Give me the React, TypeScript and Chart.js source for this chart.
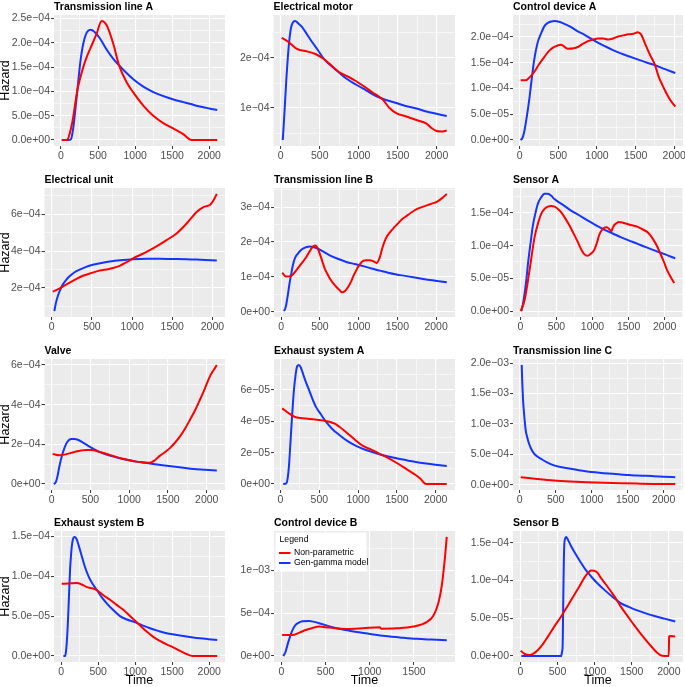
import React, { useEffect, useRef } from 'react';
import { Chart, registerables } from 'chart.js';

Chart.register(...registerables);

const FONT = '"Liberation Sans", Arial, Helvetica, sans-serif';
const RED = '#FF0000';
const BLUE = '#1535FF';
const seriesNames = ['Non-parametric', 'Gen-gamma model'];
const xBreakStep = 500;

const titles = [
  'Transmission line A', 'Electrical motor', 'Control device A',
  'Electrical unit', 'Transmission line B', 'Sensor A',
  'Valve', 'Exhaust system A', 'Transmission line C',
  'Exhaust system B', 'Control device B', 'Sensor B',
];

// ---- Transmission line A
const tlA_npT = [10, 76, 150, 220, 300, 350, 400, 481, 548, 616, 705, 782, 885, 975, 1110, 1245, 1380, 1514, 1650, 1762, 1900, 2108];
const tlA_npH = [0, 0, 3.5e-5, 1.02e-4, 1.5e-4, 1.72e-4, 1.9e-4, 2.19e-4, 2.45e-4, 2.36e-4, 1.98e-4, 1.54e-4, 1.19e-4, 9.8e-5, 7.1e-5, 5.0e-5, 3.5e-5, 2.4e-5, 1.2e-5, 0, 0, 0];
const tlA_ggT = [10, 100, 135, 165, 195, 220, 260, 300, 350, 400, 450, 526, 600, 700, 782, 850, 975, 1100, 1200, 1300, 1425, 1550, 1650, 1750, 1874, 2000, 2108];
const tlA_ggH = [0, 0, 2e-6, 2.5e-5, 6.5e-5, 1.02e-4, 1.6e-4, 1.98e-4, 2.22e-4, 2.27e-4, 2.23e-4, 2.09e-4, 1.9e-4, 1.68e-4, 1.54e-4, 1.43e-4, 1.25e-4, 1.11e-4, 1.02e-4, 9.5e-5, 8.8e-5, 8.2e-5, 7.8e-5, 7.4e-5, 6.9e-5, 6.5e-5, 6.2e-5];
const tlA_yBreaks = [0, 5e-5, 1e-4, 1.5e-4, 2e-4, 2.5e-4];
const tlA_yLabels = ['0.0e+00', '5.0e\u221205', '1.0e\u221204', '1.5e\u221204', '2.0e\u221204', '2.5e\u221204'];

// ---- Electrical motor
const em_npT = [13, 99, 207, 315, 445, 553, 650, 747, 860, 963, 1080, 1180, 1250, 1309, 1395, 1482, 1611, 1741, 1870, 1935, 2000, 2065, 2130];
const em_npH = [2.40e-4, 2.32e-4, 2.18e-4, 2.14e-4, 2.08e-4, 1.98e-4, 1.85e-4, 1.72e-4, 1.63e-4, 1.54e-4, 1.42e-4, 1.31e-4, 1.24e-4, 1.17e-4, 1.00e-4, 0.90e-4, 0.83e-4, 0.76e-4, 0.69e-4, 0.60e-4, 0.54e-4, 0.53e-4, 0.55e-4];
const em_ggT = [26, 40, 56, 75, 91, 110, 134, 160, 186, 220, 272, 330, 402, 480, 553, 650, 747, 850, 963, 1100, 1223, 1350, 1482, 1600, 1741, 1870, 2000, 2130];
const em_ggH = [0.36e-4, 0.70e-4, 1.14e-4, 1.65e-4, 2.01e-4, 2.35e-4, 2.62e-4, 2.72e-4, 2.74e-4, 2.70e-4, 2.62e-4, 2.49e-4, 2.32e-4, 2.15e-4, 1.98e-4, 1.84e-4, 1.71e-4, 1.58e-4, 1.47e-4, 1.35e-4, 1.24e-4, 1.16e-4, 1.10e-4, 1.04e-4, 0.99e-4, 0.93e-4, 0.885e-4, 0.84e-4];
const em_yBreaks = [1e-4, 2e-4];
const em_yLabels = ['1e\u221204', '2e\u221204'];

// ---- Control device A
const cdA_npT = [13, 78, 130, 187, 250, 317, 380, 448, 535, 622, 700, 752, 820, 883, 950, 1013, 1080, 1143, 1210, 1274, 1340, 1404, 1470, 1526, 1570, 1622, 1690, 1752, 1800, 1839, 1880, 1926, 1970, 2013];
const cdA_npH = [11.6e-5, 11.6e-5, 12.2e-5, 13.2e-5, 14.7e-5, 16.1e-5, 17.3e-5, 18.05e-5, 18.5e-5, 17.7e-5, 17.8e-5, 18.05e-5, 18.7e-5, 19.2e-5, 19.5e-5, 19.7e-5, 19.7e-5, 19.5e-5, 19.7e-5, 20.1e-5, 20.3e-5, 20.5e-5, 20.6e-5, 20.9e-5, 20.5e-5, 18.7e-5, 16.4e-5, 14.5e-5, 12.2e-5, 10.9e-5, 9.6e-5, 8.3e-5, 7.3e-5, 6.5e-5];
const cdA_ggT = [13, 35, 57, 90, 122, 155, 187, 230, 274, 320, 361, 410, 448, 520, 600, 665, 750, 820, 883, 1000, 1100, 1200, 1317, 1420, 1535, 1650, 1752, 1880, 2013];
const cdA_ggH = [0, 0.4e-5, 1.5e-5, 4.4e-5, 7.7e-5, 11.8e-5, 15.5e-5, 18.8e-5, 20.6e-5, 22.1e-5, 22.7e-5, 23.0e-5, 23.1e-5, 22.9e-5, 22.4e-5, 21.9e-5, 21.1e-5, 20.6e-5, 20.0e-5, 19.0e-5, 18.2e-5, 17.5e-5, 16.75e-5, 16.2e-5, 15.6e-5, 15.0e-5, 14.5e-5, 13.75e-5, 13.0e-5];
const cdA_yBreaks = [0, 5e-5, 1e-4, 1.5e-4, 2e-4];
const cdA_yLabels = ['0.0e+00', '5.0e\u221205', '1.0e\u221204', '1.5e\u221204', '2.0e\u221204'];

// ---- Electrical unit
const eu_npT = [12, 100, 179, 280, 387, 500, 596, 700, 763, 846, 930, 1012, 1120, 1221, 1330, 1429, 1554, 1679, 1804, 1888, 1971, 2012, 2054];
const eu_npH = [1.80e-4, 1.98e-4, 2.18e-4, 2.42e-4, 2.66e-4, 2.82e-4, 2.95e-4, 3.02e-4, 3.08e-4, 3.2e-4, 3.4e-4, 3.61e-4, 3.83e-4, 4.06e-4, 4.33e-4, 4.6e-4, 4.96e-4, 5.5e-4, 6.13e-4, 6.39e-4, 6.52e-4, 6.75e-4, 7.11e-4];
const eu_ggT = [33, 50, 75, 105, 137, 180, 221, 280, 346, 420, 512, 620, 721, 850, 1012, 1180, 1346, 1500, 1679, 1850, 2054];
const eu_ggH = [0.74e-4, 1.15e-4, 1.55e-4, 1.90e-4, 2.18e-4, 2.44e-4, 2.63e-4, 2.84e-4, 2.99e-4, 3.13e-4, 3.26e-4, 3.36e-4, 3.43e-4, 3.50e-4, 3.56e-4, 3.58e-4, 3.58e-4, 3.57e-4, 3.56e-4, 3.53e-4, 3.49e-4];
const eu_yBreaks = [2e-4, 4e-4, 6e-4];
const eu_yLabels = ['2e\u221204', '4e\u221204', '6e\u221204'];

// ---- Transmission line B
const tlB_npT = [13, 65, 130, 194, 260, 324, 380, 410, 445, 470, 497, 530, 562, 595, 626, 670, 713, 750, 786, 825, 864, 900, 929, 960, 994, 1025, 1058, 1100, 1145, 1190, 1231, 1274, 1305, 1339, 1370, 1404, 1450, 1490, 1550, 1620, 1690, 1750, 1815, 1879, 1945, 2009, 2074, 2138];
const tlB_npH = [1.12e-4, 1.01e-4, 1.03e-4, 1.19e-4, 1.38e-4, 1.57e-4, 1.78e-4, 1.87e-4, 1.9e-4, 1.82e-4, 1.67e-4, 1.45e-4, 1.24e-4, 1.09e-4, 0.96e-4, 0.82e-4, 0.71e-4, 0.63e-4, 0.56e-4, 0.6e-4, 0.71e-4, 0.86e-4, 1.01e-4, 1.15e-4, 1.29e-4, 1.39e-4, 1.46e-4, 1.48e-4, 1.48e-4, 1.45e-4, 1.40e-4, 1.57e-4, 1.82e-4, 2.04e-4, 2.18e-4, 2.28e-4, 2.40e-4, 2.49e-4, 2.63e-4, 2.75e-4, 2.86e-4, 2.94e-4, 3.0e-4, 3.05e-4, 3.1e-4, 3.15e-4, 3.25e-4, 3.38e-4];
const tlB_ggT = [35, 50, 65, 85, 108, 130, 151, 180, 216, 250, 281, 320, 367, 410, 454, 540, 626, 730, 842, 950, 1058, 1170, 1274, 1380, 1490, 1600, 1706, 1815, 1922, 2030, 2138];
const tlB_ggH = [0.02e-4, 0.08e-4, 0.21e-4, 0.48e-4, 0.82e-4, 1.10e-4, 1.34e-4, 1.55e-4, 1.67e-4, 1.76e-4, 1.81e-4, 1.85e-4, 1.87e-4, 1.86e-4, 1.83e-4, 1.73e-4, 1.62e-4, 1.52e-4, 1.43e-4, 1.37e-4, 1.31e-4, 1.24e-4, 1.18e-4, 1.12e-4, 1.07e-4, 1.03e-4, 0.99e-4, 0.95e-4, 0.91e-4, 0.88e-4, 0.85e-4];
const tlB_yBreaks = [0, 1e-4, 2e-4, 3e-4];
const tlB_yLabels = ['0e+00', '1e\u221204', '2e\u221204', '3e\u221204'];

// ---- Sensor A
const sA_npT = [5, 60, 128, 197, 250, 289, 335, 381, 430, 472, 520, 564, 620, 679, 740, 794, 840, 885, 931, 980, 1023, 1060, 1092, 1125, 1160, 1190, 1216, 1240, 1261, 1280, 1298, 1330, 1367, 1420, 1482, 1550, 1619, 1690, 1757, 1800, 1849, 1895, 1940, 1990, 2032, 2080, 2133];
const sA_npH = [0, 1.76e-5, 6.3e-5, 11.3e-5, 13.6e-5, 14.85e-5, 15.6e-5, 15.95e-5, 16.05e-5, 15.95e-5, 15.6e-5, 15.1e-5, 14.2e-5, 13.1e-5, 11.8e-5, 10.6e-5, 9.5e-5, 8.7e-5, 8.45e-5, 8.8e-5, 9.31e-5, 10.4e-5, 11.6e-5, 12.3e-5, 12.7e-5, 12.8e-5, 12.7e-5, 12.4e-5, 12.2e-5, 12.7e-5, 13.1e-5, 13.4e-5, 13.6e-5, 13.5e-5, 13.3e-5, 13.1e-5, 12.9e-5, 12.5e-5, 12.1e-5, 11.6e-5, 10.8e-5, 9.9e-5, 8.8e-5, 7.5e-5, 6.3e-5, 5.3e-5, 4.28e-5];
const sA_ggT = [14, 35, 60, 85, 106, 140, 174, 210, 243, 290, 335, 381, 430, 472, 580, 702, 820, 931, 1050, 1160, 1280, 1390, 1500, 1619, 1730, 1849, 2000, 2147];
const sA_ggH = [0, 1.0e-5, 2.77e-5, 5.0e-5, 7.3e-5, 10.3e-5, 13.1e-5, 15.0e-5, 16.4e-5, 17.4e-5, 17.9e-5, 17.9e-5, 17.6e-5, 17.1e-5, 16.3e-5, 15.35e-5, 14.6e-5, 13.84e-5, 13.1e-5, 12.43e-5, 11.85e-5, 11.3e-5, 10.8e-5, 10.3e-5, 9.8e-5, 9.31e-5, 8.7e-5, 8.05e-5];
const sA_yBreaks = [0, 5e-5, 1e-4, 1.5e-4];
const sA_yLabels = ['0.0e+00', '5.0e\u221205', '1.0e\u221204', '1.5e\u221204'];

// ---- Valve
const va_npT = [13, 99, 186, 250, 315, 380, 445, 510, 575, 660, 747, 830, 920, 1000, 1093, 1180, 1266, 1330, 1395, 1460, 1525, 1590, 1655, 1720, 1784, 1850, 1914, 1980, 2043, 2090, 2130];
const va_npH = [1.52e-4, 1.45e-4, 1.50e-4, 1.57e-4, 1.64e-4, 1.69e-4, 1.72e-4, 1.71e-4, 1.67e-4, 1.58e-4, 1.47e-4, 1.37e-4, 1.27e-4, 1.2e-4, 1.13e-4, 1.10e-4, 1.07e-4, 1.2e-4, 1.42e-4, 1.6e-4, 1.81e-4, 2.08e-4, 2.40e-4, 2.79e-4, 3.24e-4, 3.72e-4, 4.26e-4, 4.85e-4, 5.44e-4, 5.75e-4, 6.0e-4];
const va_ggT = [26, 45, 56, 75, 99, 130, 164, 200, 251, 300, 337, 400, 488, 570, 661, 760, 877, 980, 1093, 1200, 1309, 1430, 1568, 1700, 1827, 1980, 2130];
const va_ggH = [0, 0.05e-4, 0.12e-4, 0.4e-4, 0.88e-4, 1.4e-4, 1.81e-4, 2.12e-4, 2.27e-4, 2.27e-4, 2.23e-4, 2.1e-4, 1.89e-4, 1.71e-4, 1.55e-4, 1.42e-4, 1.30e-4, 1.21e-4, 1.13e-4, 1.07e-4, 1.01e-4, 0.95e-4, 0.88e-4, 0.82e-4, 0.76e-4, 0.72e-4, 0.68e-4];
const va_yBreaks = [0, 2e-4, 4e-4, 6e-4];
const va_yLabels = ['0e+00', '2e\u221204', '4e\u221204', '6e\u221204'];

// ---- Exhaust system A
const esA_npT = [22, 108, 195, 325, 498, 628, 700, 758, 820, 888, 970, 1061, 1170, 1277, 1390, 1494, 1600, 1710, 1800, 1875, 2000, 2143];
const esA_npH = [4.83e-5, 4.51e-5, 4.26e-5, 4.19e-5, 4.09e-5, 3.98e-5, 3.85e-5, 3.66e-5, 3.42e-5, 3.13e-5, 2.78e-5, 2.43e-5, 2.2e-5, 1.93e-5, 1.65e-5, 1.36e-5, 1.03e-5, 0.68e-5, 0.36e-5, 0, 0, 0];
const esA_ggT = [35, 74, 90, 108, 125, 143, 158, 173, 195, 216, 238, 260, 281, 320, 368, 410, 455, 520, 585, 670, 758, 860, 974, 1100, 1234, 1360, 1494, 1650, 1797, 1970, 2143];
const esA_ggH = [0, 0.04e-5, 0.3e-5, 1.1e-5, 2.4e-5, 3.87e-5, 5.0e-5, 6.0e-5, 7.0e-5, 7.53e-5, 7.6e-5, 7.45e-5, 7.17e-5, 6.6e-5, 6.0e-5, 5.45e-5, 4.94e-5, 4.45e-5, 3.98e-5, 3.5e-5, 3.13e-5, 2.75e-5, 2.43e-5, 2.17e-5, 1.96e-5, 1.79e-5, 1.64e-5, 1.49e-5, 1.36e-5, 1.25e-5, 1.15e-5];
const esA_yBreaks = [0, 2e-5, 4e-5, 6e-5];
const esA_yLabels = ['0e+00', '2e\u221205', '4e\u221205', '6e\u221205'];

// ---- Transmission line C
const tlC_npT = [14, 240, 476, 700, 938, 1170, 1400, 1630, 1861, 2000, 2162];
const tlC_npH = [1.27e-4, 0.98e-4, 0.72e-4, 0.56e-4, 0.44e-4, 0.35e-4, 0.28e-4, 0.22e-4, 0.17e-4, 0.16e-4, 0.15e-4];
const tlC_ggT = [28, 35, 45, 60, 83, 105, 129, 160, 199, 240, 291, 380, 476, 590, 707, 820, 938, 1050, 1169, 1290, 1400, 1520, 1631, 1750, 1861, 2000, 2162];
const tlC_ggH = [19.7e-4, 17.0e-4, 14.2e-4, 11.8e-4, 9.0e-4, 7.8e-4, 6.8e-4, 5.9e-4, 5.15e-4, 4.7e-4, 4.32e-4, 3.7e-4, 3.21e-4, 2.9e-4, 2.66e-4, 2.42e-4, 2.22e-4, 2.07e-4, 1.94e-4, 1.83e-4, 1.72e-4, 1.63e-4, 1.55e-4, 1.5e-4, 1.44e-4, 1.36e-4, 1.27e-4];
const tlC_yBreaks = [0, 5e-4, 1e-3, 1.5e-3, 2e-3];
const tlC_yLabels = ['0.0e+00', '5.0e\u221204', '1.0e\u221203', '1.5e\u221203', '2.0e\u221203'];

// ---- Exhaust system B
const esB_npT = [9, 100, 211, 280, 346, 410, 481, 570, 661, 750, 840, 930, 1020, 1090, 1155, 1245, 1335, 1425, 1514, 1600, 1694, 1775, 1900, 2108];
const esB_npH = [9.05e-5, 9.08e-5, 9.13e-5, 8.95e-5, 8.63e-5, 8.5e-5, 8.25e-5, 7.6e-5, 7.04e-5, 6.4e-5, 5.78e-5, 5.0e-5, 4.23e-5, 3.6e-5, 3.06e-5, 2.4e-5, 1.89e-5, 1.45e-5, 1.09e-5, 0.68e-5, 0.25e-5, 0, 0, 0];
const esB_ggT = [31, 54, 65, 76, 88, 99, 110, 121, 133, 144, 160, 175, 192, 211, 245, 279, 320, 369, 420, 481, 545, 616, 700, 795, 880, 975, 1090, 1200, 1310, 1425, 1540, 1650, 1760, 1874, 1990, 2108];
const esB_ggH = [0, 0, 0.5e-5, 1.6e-5, 3.5e-5, 5.8e-5, 8.4e-5, 10.8e-5, 12.5e-5, 13.7e-5, 14.6e-5, 14.9e-5, 14.85e-5, 14.6e-5, 13.6e-5, 12.5e-5, 11.2e-5, 10.0e-5, 9.1e-5, 8.3e-5, 7.4e-5, 6.6e-5, 5.8e-5, 5.0e-5, 4.6e-5, 4.3e-5, 3.87e-5, 3.48e-5, 3.15e-5, 2.85e-5, 2.67e-5, 2.51e-5, 2.36e-5, 2.22e-5, 2.11e-5, 2.01e-5];
const esB_yBreaks = [0, 5e-5, 1e-4, 1.5e-4];
const esB_yLabels = ['0.0e+00', '5.0e\u221205', '1.0e\u221204', '1.5e\u221204'];

// ---- Control device B
const cdB_npT = [10, 123, 200, 275, 350, 427, 541, 731, 921, 1111, 1130, 1301, 1491, 1643, 1719, 1776, 1814, 1845, 1871];
const cdB_npH = [2.44e-4, 2.44e-4, 2.7e-4, 3.03e-4, 3.25e-4, 3.43e-4, 3.31e-4, 3.15e-4, 3.23e-4, 3.35e-4, 3.19e-4, 3.23e-4, 3.43e-4, 3.94e-4, 4.69e-4, 6.18e-4, 8.15e-4, 10.9e-4, 13.86e-4];
const cdB_ggT = [21, 47, 75, 104, 130, 161, 200, 237, 313, 427, 579, 769, 959, 1149, 1339, 1529, 1700, 1871];
const cdB_ggH = [0, 0.47e-4, 1.5e-4, 2.44e-4, 3.1e-4, 3.62e-4, 3.9e-4, 4.06e-4, 4.09e-4, 3.82e-4, 3.35e-4, 2.95e-4, 2.64e-4, 2.36e-4, 2.17e-4, 2.0e-4, 1.92e-4, 1.85e-4];
const cdB_yBreaks = [0, 5e-4, 1e-3];
const cdB_yLabels = ['0e+00', '5e\u221204', '1e\u221203'];

// ---- Sensor B
const sB_npT = [4, 58, 125, 180, 236, 300, 370, 450, 549, 640, 727, 800, 861, 910, 950, 995, 1040, 1084, 1150, 1218, 1290, 1351, 1440, 1530, 1620, 1708, 1780, 1842, 1909, 1998, 2005, 2015, 2087];
const sB_npH = [0.71e-5, 0.27e-5, 0.13e-5, 0.35e-5, 0.8e-5, 1.55e-5, 2.57e-5, 3.8e-5, 5.24e-5, 6.7e-5, 8.12e-5, 9.3e-5, 10.34e-5, 11.0e-5, 11.32e-5, 11.3e-5, 11.0e-5, 10.34e-5, 9.5e-5, 8.57e-5, 7.55e-5, 6.57e-5, 5.35e-5, 4.13e-5, 2.98e-5, 1.91e-5, 1.1e-5, 0.44e-5, 0.04e-5, 0, 2.6e-5, 2.66e-5, 2.57e-5];
const sB_ggT = [13, 549, 560, 570, 578, 585, 593, 605, 615, 640, 682, 750, 816, 880, 950, 1040, 1128, 1240, 1351, 1460, 1574, 1690, 1797, 1940, 2087];
const sB_ggH = [0, 0, 0.5e-5, 1.7e-5, 8.0e-5, 12.5e-5, 15.0e-5, 15.6e-5, 15.76e-5, 15.4e-5, 14.56e-5, 13.4e-5, 12.34e-5, 11.4e-5, 10.56e-5, 9.6e-5, 8.79e-5, 7.85e-5, 7.0e-5, 6.5e-5, 6.04e-5, 5.65e-5, 5.33e-5, 4.95e-5, 4.57e-5];
const sB_yBreaks = [0, 5e-5, 1e-4, 1.5e-4];
const sB_yLabels = ['0.0e+00', '5.0e\u221205', '1.0e\u221204', '1.5e\u221204'];

const panels = [
  { np: [tlA_npT, tlA_npH], gg: [tlA_ggT, tlA_ggH], yb: tlA_yBreaks, yl: tlA_yLabels },
  { np: [em_npT, em_npH], gg: [em_ggT, em_ggH], yb: em_yBreaks, yl: em_yLabels },
  { np: [cdA_npT, cdA_npH], gg: [cdA_ggT, cdA_ggH], yb: cdA_yBreaks, yl: cdA_yLabels },
  { np: [eu_npT, eu_npH], gg: [eu_ggT, eu_ggH], yb: eu_yBreaks, yl: eu_yLabels },
  { np: [tlB_npT, tlB_npH], gg: [tlB_ggT, tlB_ggH], yb: tlB_yBreaks, yl: tlB_yLabels },
  { np: [sA_npT, sA_npH], gg: [sA_ggT, sA_ggH], yb: sA_yBreaks, yl: sA_yLabels },
  { np: [va_npT, va_npH], gg: [va_ggT, va_ggH], yb: va_yBreaks, yl: va_yLabels },
  { np: [esA_npT, esA_npH], gg: [esA_ggT, esA_ggH], yb: esA_yBreaks, yl: esA_yLabels },
  { np: [tlC_npT, tlC_npH], gg: [tlC_ggT, tlC_ggH], yb: tlC_yBreaks, yl: tlC_yLabels },
  { np: [esB_npT, esB_npH], gg: [esB_ggT, esB_ggH], yb: esB_yBreaks, yl: esB_yLabels },
  { np: [cdB_npT, cdB_npH], gg: [cdB_ggT, cdB_ggH], yb: cdB_yBreaks, yl: cdB_yLabels },
  { np: [sB_npT, sB_npH], gg: [sB_ggT, sB_ggH], yb: sB_yBreaks, yl: sB_yLabels },
];

// ---- layout (pixels)
const cellX = [0, 228, 457];
const cellW = [228, 229, 228];
const cellY = [0, 170, 340, 510];
const cellH = [170, 170, 170, 177];
const plotTop = [15, 188, 359, 531];
const plotBottom = [146, 317, 490, 662];
const plotRight = [225, 455, 683];
const plotLeft = [[54, 273.5, 513], [44.5, 274, 513], [44.5, 274, 513], [54, 274, 513]];
const X_AXIS_H = 14;
const TICK_FONT = 10.5;

function extent(arrs: number[][]) {
  let lo = Infinity, hi = -Infinity;
  arrs.forEach(a => a.forEach(v => { if (v < lo) lo = v; if (v > hi) hi = v; }));
  const d = (hi - lo) * 0.05;
  return [lo - d, hi + d];
}

function halfTicks(min: number, max: number, step: number) {
  const h = step / 2;
  const out: { value: number }[] = [];
  for (let k = Math.ceil(min / h - 1e-9); k * h <= max + 1e-15; k++) out.push({ value: k * h });
  return out;
}
const isMajor = (v: number, step: number) => Math.abs(Math.round(v / (step / 2))) % 2 === 0;

const decor = {
  id: 'decor',
  beforeDraw(chart: any) {
    const { ctx, chartArea: a } = chart;
    ctx.save();
    ctx.fillStyle = '#EBEBEB';
    ctx.fillRect(a.left, a.top, a.right - a.left, a.bottom - a.top);
    ctx.restore();
  },
  afterDraw(chart: any, _args: any, opts: any) {
    const { ctx, chartArea: a } = chart;
    ctx.save();
    ctx.fillStyle = '#000000';
    ctx.font = `bold 10.5px ${FONT}`;
    ctx.textAlign = 'left';
    ctx.textBaseline = 'alphabetic';
    ctx.fillText(opts.title, a.left, a.top - 5);
    ctx.font = `12.5px ${FONT}`;
    if (opts.yTitle) {
      ctx.save();
      ctx.translate(6, (a.top + a.bottom) / 2);
      ctx.rotate(-Math.PI / 2);
      ctx.textAlign = 'center';
      ctx.textBaseline = 'middle';
      ctx.fillText('Hazard', 0, 0);
      ctx.restore();
    }
    if (opts.xTitle) {
      ctx.textAlign = 'center';
      ctx.textBaseline = 'middle';
      ctx.fillText('Time', (a.left + a.right) / 2, a.bottom + 18.5);
    }
    if (opts.legend) {
      const bx = a.left + 1.5, by = a.top + 1.5, bw = 91, bh = 39;
      ctx.fillStyle = '#FFFFFF';
      ctx.fillRect(bx, by, bw, bh);
      ctx.fillStyle = '#000000';
      ctx.font = `8.7px ${FONT}`;
      ctx.textAlign = 'left';
      ctx.textBaseline = 'middle';
      ctx.fillText('Legend', bx + 4, by + 7.5);
      chart.data.datasets.forEach((ds: any, i: number) => {
        const y = by + 20.5 + i * 10;
        ctx.strokeStyle = ds.borderColor;
        ctx.lineWidth = 2;
        ctx.beginPath();
        ctx.moveTo(bx + 3.5, y);
        ctx.lineTo(bx + 15, y);
        ctx.stroke();
        ctx.fillText(ds.label, bx + 18.5, y);
      });
    }
    ctx.restore();
  },
};

function Panel({ idx }: { idx: number }) {
  const ref = useRef<HTMLCanvasElement>(null);
  const row = Math.floor(idx / 3), col = idx % 3;
  const p = panels[idx];
  useEffect(() => {
    const [xMin, xMax] = extent([p.np[0], p.gg[0]]);
    const [yMin, yMax] = extent([p.np[1], p.gg[1]]);
    const yStep = p.yb.length > 1 ? p.yb[1] - p.yb[0] : p.yb[0];
    const yAxisW = plotLeft[row][col] - cellX[col];
    const padTop = plotTop[row] - cellY[row];
    const padRight = cellX[col] + cellW[col] - plotRight[col];
    const padBottom = cellY[row] + cellH[row] - plotBottom[row] - X_AXIS_H;
    const mk = (t: number[], h: number[]) => t.map((x, i) => ({ x, y: h[i] }));
    const gridOpts = (step: number) => ({
      color: '#FFFFFF',
      lineWidth: (c: any) => (c.tick && isMajor(c.tick.value, step) ? 1.1 : 0.55),
      tickColor: (c: any) => (c.tick && isMajor(c.tick.value, step) ? '#333333' : 'rgba(0,0,0,0)'),
      tickLength: 3,
      tickWidth: 1,
      drawTicks: true,
      drawOnChartArea: true,
    });
    const chart = new Chart(ref.current as HTMLCanvasElement, {
      type: 'line',
      data: {
        datasets: [
          { label: seriesNames[0], data: mk(p.np[0], p.np[1]), borderColor: RED, backgroundColor: RED, borderWidth: 2, pointRadius: 0, cubicInterpolationMode: 'monotone', fill: false },
          { label: seriesNames[1], data: mk(p.gg[0], p.gg[1]), borderColor: BLUE, backgroundColor: BLUE, borderWidth: 2, pointRadius: 0, cubicInterpolationMode: 'monotone', fill: false },
        ],
      },
      options: {
        animation: false,
        responsive: false,
        events: [],
        layout: { padding: { left: 0, top: padTop, right: padRight, bottom: padBottom } },
        plugins: {
          legend: { display: false },
          tooltip: { enabled: false },
          title: { display: false },
          decor: { title: titles[idx], yTitle: col === 0, xTitle: row === 3, legend: idx === 10 },
        } as any,
        scales: {
          x: {
            type: 'linear',
            position: 'bottom',
            min: xMin,
            max: xMax,
            afterBuildTicks: (s: any) => { s.ticks = halfTicks(xMin, xMax, xBreakStep); },
            afterFit: (s: any) => { s.height = X_AXIS_H; s.paddingLeft = 0; s.paddingRight = 0; },
            ticks: {
              autoSkip: false,
              maxRotation: 0,
              minRotation: 0,
              padding: 1,
              color: '#4D4D4D',
              font: { family: FONT, size: TICK_FONT },
              callback: (v: any) => (isMajor(Number(v), xBreakStep) ? String(Math.round(Number(v))) : ''),
            },
            grid: gridOpts(xBreakStep),
            border: { display: false },
          },
          y: {
            type: 'linear',
            min: yMin,
            max: yMax,
            afterBuildTicks: (s: any) => { s.ticks = halfTicks(yMin, yMax, yStep); },
            afterFit: (s: any) => { s.width = yAxisW; s.paddingTop = 0; s.paddingBottom = 0; },
            ticks: {
              autoSkip: false,
              padding: 1,
              color: '#4D4D4D',
              font: { family: FONT, size: TICK_FONT },
              callback: (v: any) => {
                const n = Number(v);
                if (!isMajor(n, yStep)) return '';
                const i = p.yb.findIndex(b => Math.abs(b - n) < yStep * 1e-3);
                return i >= 0 ? p.yl[i] : '';
              },
            },
            grid: gridOpts(yStep),
            border: { display: false },
          },
        },
      } as any,
      plugins: [decor],
    });
    return () => chart.destroy();
  }, [idx]);
  return (
    <canvas
      ref={ref}
      width={cellW[col]}
      height={cellH[row]}
      style={{ position: 'absolute', left: cellX[col], top: cellY[row], width: cellW[col], height: cellH[row] }}
    />
  );
}

export default function App() {
  return (
    <div style={{ position: 'absolute', left: 0, top: 0, width: 685, height: 687, background: '#FFFFFF', overflow: 'hidden' }}>
      {panels.map((_, i) => <Panel key={i} idx={i} />)}
    </div>
  );
}
